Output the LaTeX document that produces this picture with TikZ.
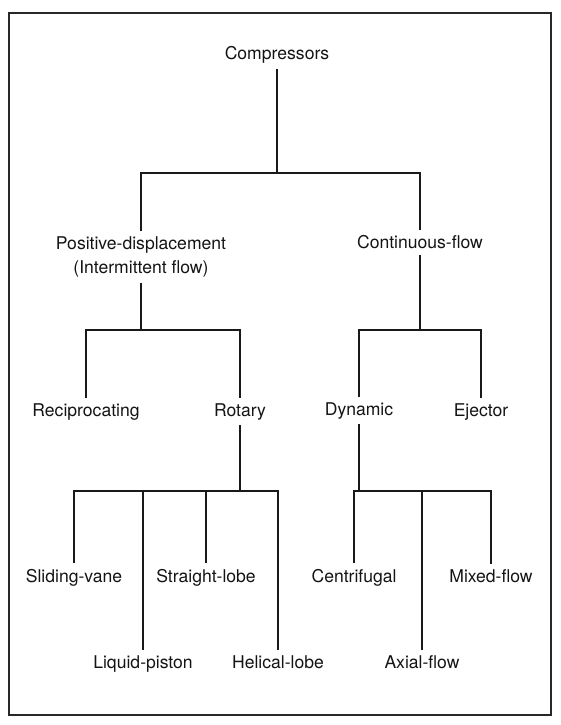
\documentclass[tikz,border=0pt]{standalone}
\usepackage{fontspec}
\setmainfont{TeX Gyre Heros}
\usepackage{tikz}
\usetikzlibrary{
  positioning,
  calc
}
\definecolor{labelcolor}{RGB}{20, 20, 20}
\definecolor{linecolor}{RGB}{25, 25, 25}
\definecolor{framecolor}{RGB}{40, 40, 40}
\tikzset{
itemlabel/.style={
  font=\fontsize{10}{13.6}\selectfont,
  text=labelcolor,
  inner sep=3pt,
  anchor=base
},
branch/.style={
  line width=0.8pt,
  draw=linecolor
},
framebox/.style={
  line width=1pt,
  draw=framecolor
}
}

\begin{document}
\begin{tikzpicture}
\useasboundingbox (0,0) rectangle (11.2,-14.5);
\draw[framebox] (0.18,-0.26) rectangle (11.02,-14.30);

% ============================================================================
% NIVEIS
% ============================================================================
\coordinate (bar1) at (0,-3.46);
\coordinate (bar2) at (0,-6.60);
\coordinate (bar3) at (0,-9.82);

\node[itemlabel] (comp) at (5.54,-1.20) {Compressors};

\node[itemlabel, anchor=north, align=center] (posdisp) at (2.82,-4.62) {Positive-displacement\\(Intermittent flow)};
\node[itemlabel] (contflow) at (8.40,-4.98) {Continuous-flow};

\node[itemlabel] (recip) at (1.72,-8.32) {Reciprocating};
\node[itemlabel] (rotary) at (4.80,-8.32) {Rotary};
\node[itemlabel] (dynamic) at (7.18,-8.30) {Dynamic};
\node[itemlabel] (ejector) at (9.62,-8.32) {Ejector};

\node[itemlabel] (sliding) at (1.48,-11.64) {Sliding-vane};
\node[itemlabel] (straight) at (4.12,-11.64) {Straight-lobe};
\node[itemlabel] (centrif) at (7.08,-11.64) {Centrifugal};
\node[itemlabel] (mixed) at (9.82,-11.64) {Mixed-flow};

\node[itemlabel] (liquid) at (2.86,-13.36) {Liquid-piston};
\node[itemlabel] (helical) at (5.56,-13.36) {Helical-lobe};
\node[itemlabel] (axial) at (8.44,-13.36) {Axial-flow};

% ============================================================================
% LIGACOES
% ============================================================================
\draw[branch] (comp.south) -- (comp.south |- bar1);
\draw[branch] (posdisp.north) |- (contflow.north |- bar1) -- (contflow.north);

\draw[branch] (posdisp.south) -- (posdisp.south |- bar2);
\draw[branch] (recip.north) |- (rotary.north |- bar2) -- (rotary.north);

\draw[branch] (contflow.south) -- (contflow.south |- bar2);
\draw[branch] (dynamic.north) |- (ejector.north |- bar2) -- (ejector.north);

\draw[branch] (rotary.south) -- (rotary.south |- bar3);
\draw[branch] (sliding.north) |- (helical.north |- bar3) -- (helical.north);
\draw[branch] (liquid.north) -- (liquid.north |- bar3);
\draw[branch] (straight.north) -- (straight.north |- bar3);

\draw[branch] (dynamic.south) -- (dynamic.south |- bar3);
\draw[branch] (centrif.north) |- (mixed.north |- bar3) -- (mixed.north);
\draw[branch] (axial.north) -- (axial.north |- bar3);

\end{tikzpicture}
\end{document}
